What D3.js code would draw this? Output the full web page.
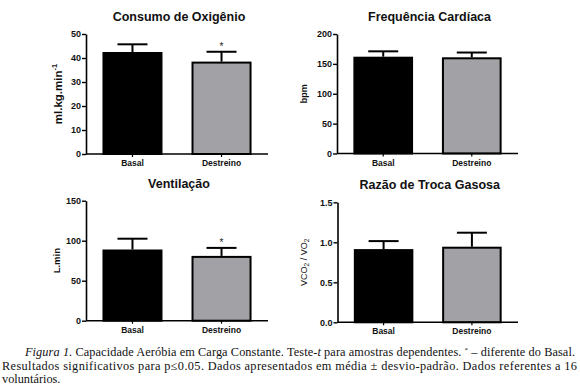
<!DOCTYPE html>
<html><head><meta charset="utf-8">
<script src="https://cdn.jsdelivr.net/npm/d3@7"></script>
<style>body{margin:0;background:#fff}svg{display:block}</style>
</head><body>
<svg id="c" width="580" height="388"></svg>
<script>
const categories = ["Basal", "Destreino"];
const vo2Mean = [42.5, 38.5], vo2SD = [3.2, 4.1];
const hrMean = [162, 161], hrSD = [9, 8];
const veMean = [89, 81], veSD = [13.5, 10];
const rerMean = [0.915, 0.945], rerSD = [0.10, 0.175];
const vo2Ticks = [0, 10, 20, 30, 40, 50];
const hrTicks = [0, 50, 100, 150, 200];
const veTicks = [0, 50, 100, 150];
const rerTicks = [0, 0.5, 1.0, 1.5];
const significant = [false, true];
const colors = ["#000000", "#a2a2a6"];

const svg = d3.select("#c");
const panels = [
  {title: "Consumo de Oxigênio", mean: vo2Mean, sd: vo2SD, ticks: vo2Ticks, fmt: d3.format("d"), sig: significant,
   x0: 86, x1: 268, yTop: 34, yBot: 154, label: "ml.kg.min", sup: "-1", labelX: 58, labelSize: 11.5},
  {title: "Frequência Cardíaca", mean: hrMean, sd: hrSD, ticks: hrTicks, fmt: d3.format("d"), sig: [false,false],
   x0: 337, x1: 518, yTop: 34, yBot: 153.5, label: "bpm", labelX: 304, labelSize: 9},
  {title: "Ventilação", mean: veMean, sd: veSD, ticks: veTicks, fmt: d3.format("d"), sig: significant,
   x0: 86, x1: 268, yTop: 200.7, yBot: 320.7, label: "L.min", labelX: 57, labelSize: 9.5},
  {title: "Razão de Troca Gasosa", mean: rerMean, sd: rerSD, ticks: rerTicks, fmt: d3.format(".1f"), sig: [false,false],
   x0: 337.5, x1: 518, yTop: 202.3, yBot: 322.3, label: "VCO2 / VO2", labelX: 304, labelSize: 9, rer: true}
];

panels.forEach(p => {
  const g = svg.append("g");
  const max = p.ticks[p.ticks.length - 1];
  const y = d3.scaleLinear().domain([0, max]).range([p.yBot, p.yTop]);
  const x = d3.scaleBand().domain(categories).range([p.x0, p.x1]).paddingInner(0.326).paddingOuter(0.185);
  const bw = x.bandwidth();

  categories.forEach((c, i) => {
    const cx = x(c) + bw / 2;
    g.append("line").attr("x1", cx).attr("x2", cx).attr("y1", y(p.mean[i])).attr("y2", y(p.mean[i] + p.sd[i]))
      .attr("stroke", "#000").attr("stroke-width", 2);
    g.append("line").attr("x1", cx - 15).attr("x2", cx + 15).attr("y1", y(p.mean[i] + p.sd[i])).attr("y2", y(p.mean[i] + p.sd[i]))
      .attr("stroke", "#000").attr("stroke-width", 2);
    g.append("rect").attr("x", x(c) + 1).attr("y", y(p.mean[i]) + 1).attr("width", bw - 2).attr("height", y(0) - y(p.mean[i]) - 1)
      .attr("fill", colors[i]).attr("stroke", "#000").attr("stroke-width", 2);
    if (p.sig[i]) {
      g.append("text").attr("x", cx).attr("y", y(p.mean[i] + p.sd[i]) - 2).attr("text-anchor", "middle")
        .attr("font-family", "Liberation Sans, Arial, sans-serif").attr("font-size", 10).attr("fill", "#222").text("*");
    }
    g.append("text").attr("x", cx).attr("y", p.yBot + 12).attr("text-anchor", "middle")
      .attr("font-family", "Liberation Sans, Arial, sans-serif").attr("font-weight", "bold").attr("font-size", 8.5)
      .attr("fill", "#111").text(c);
  });

  const ya = d3.axisLeft(y).tickValues(p.ticks).tickFormat(p.fmt).tickSize(4).tickSizeOuter(0);
  const yg = g.append("g").attr("transform", `translate(${p.x0},0)`).call(ya);
  yg.select(".domain").attr("stroke-width", 1.6);
  yg.selectAll(".tick line").attr("stroke-width", 1.4);
  yg.selectAll(".tick text").attr("font-family", "Liberation Sans, Arial, sans-serif").attr("font-weight", "bold")
    .attr("font-size", 9).attr("fill", "#111").attr("x", -5);

  g.append("line").attr("x1", p.x0).attr("x2", p.x1).attr("y1", p.yBot).attr("y2", p.yBot)
    .attr("stroke", "#000").attr("stroke-width", 1.6);
  categories.forEach(c => {
    g.append("line").attr("x1", x(c) + bw / 2).attr("x2", x(c) + bw / 2).attr("y1", p.yBot).attr("y2", p.yBot + 3)
      .attr("stroke", "#000").attr("stroke-width", 1.2);
  });

  g.append("text").attr("x", (p.x0 + p.x1) / 2 + 2).attr("y", p.yTop - 13).attr("text-anchor", "middle")
    .attr("font-family", "Liberation Sans, Arial, sans-serif").attr("font-weight", "bold").attr("font-size", 12.5)
    .attr("fill", "#111").text(p.title);

  const cy = (p.yTop + p.yBot) / 2;
  const lt = g.append("text").attr("transform", `translate(${p.labelX},${cy}) rotate(-90)`).attr("text-anchor", "middle")
    .attr("dy", "0.35em")
    .attr("font-family", "Liberation Sans, Arial, sans-serif").attr("font-weight", p.rer ? "normal" : "bold")
    .attr("font-size", p.labelSize).attr("fill", "#111");
  if (p.rer) {
    lt.append("tspan").text("VCO");
    lt.append("tspan").attr("font-size", 6.5).attr("dy", 2).text("2");
    lt.append("tspan").attr("dy", -2).text(" / VO");
    lt.append("tspan").attr("font-size", 6.5).attr("dy", 2).text("2");
  } else {
    lt.append("tspan").text(p.label);
    if (p.sup) lt.append("tspan").attr("font-size", 7.5).attr("dy", -5).text(p.sup);
  }
});

const serif = "Liberation Serif, Times New Roman, serif";
const c1 = svg.append("text").attr("x", 25).attr("y", 356).attr("font-family", serif).attr("font-size", 12.3)
  .attr("fill", "#111").attr("textLength", 550).attr("lengthAdjust", "spacing");
c1.append("tspan").attr("font-style", "italic").text("Figura 1.");
c1.append("tspan").text(" Capacidade Aeróbia em Carga Constante. Teste-");
c1.append("tspan").attr("font-style", "italic").text("t");
c1.append("tspan").text(" para amostras dependentes. ");
c1.append("tspan").attr("font-size", 7).attr("dy", -4).text("*");
c1.append("tspan").attr("dy", 4).text(" – diferente do Basal.");
svg.append("text").attr("x", 2).attr("y", 369.5).attr("font-family", serif).attr("font-size", 12.3)
  .attr("fill", "#111").attr("textLength", 575).attr("lengthAdjust", "spacing")
  .text("Resultados significativos para p≤0.05. Dados apresentados em média ± desvio-padrão. Dados referentes a 16");
svg.append("text").attr("x", 2).attr("y", 383).attr("font-family", serif).attr("font-size", 12.3)
  .attr("fill", "#111").text("voluntários.");
</script>
</body></html>
